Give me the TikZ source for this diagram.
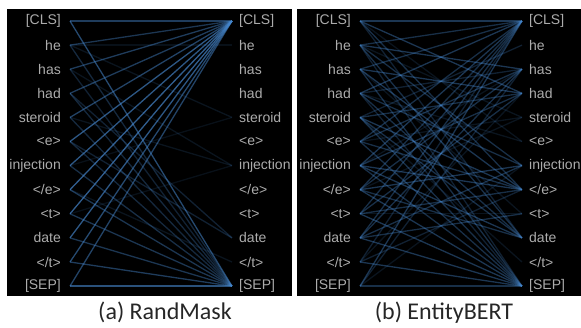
\documentclass[tikz,border=0pt]{standalone}
\usepackage{fontspec}
\setmainfont{Liberation Sans}
\newfontfamily\capfont{Carlito}
\usepackage{xcolor}
\usetikzlibrary{positioning}
\definecolor{attblue}{RGB}{70,135,205}
\definecolor{tokgray}{RGB}{172,172,172}

\begin{document}
\begin{tikzpicture}[x=1pt, y=-1pt,
  panel/.style={fill=black, draw=none},
  tok/.style={text=tokgray, font=\fontsize{14}{14}\selectfont, inner sep=0pt},
  att/.style={attblue, line width=1.3pt, draw opacity=#1},
  caption/.style={font=\capfont\fontsize{24}{24}\selectfont, text=black!85, anchor=base}
]
  \useasboundingbox (0,0) rectangle (581,327);
  \fill[panel] (7,9) rectangle (292,296);
  \fill[panel] (297,9) rectangle (581,296);

  % token rows, both panels
  \foreach \t [count=\k] in {{[CLS]},he,has,had,steroid,<e>,injection,</e>,<t>,date,</t>,{[SEP]}} {
    \pgfmathsetmacro\y{21+(\k-1)*24.1}
    \coordinate (a-l\k) at (70,\y);
    \coordinate (a-r\k) at (232,\y);
    \coordinate (b-l\k) at (360,\y);
    \coordinate (b-r\k) at (522,\y);
    \node[tok, left=9pt of a-l\k] (a-lt\k) {\t};
    \node[tok, left=9pt of b-l\k] (b-lt\k) {\t};
    \node[tok, right=7pt of b-r\k] (b-rt\k) {\t};
    \begin{scope}
      \clip (7,9) rectangle (292,296);
      \node[tok, right=7pt of a-r\k] (a-rt\k) {\t};
    \end{scope}
  }

  % (a) RandMask: almost everything goes to [CLS] and [SEP]
  \foreach \i/\o in {1/.45,2/.4,3/.45,4/.45,5/.5,6/.65,7/.65,8/.7,9/.7,10/.65,11/.55,12/.5}
    \draw[att=\o] (a-l\i) -- (a-r1);
  \foreach \i/\o in {1/.55,2/.3,3/.25,4/.3,5/.3,6/.3,7/.35,8/.4,9/.4,10/.4,11/.45,12/.6}
    \draw[att=\o] (a-l\i) -- (a-r12);
  \foreach \i/\j/\o in {2/5/.15,3/7/.15,4/10/.25,5/7/.15,6/10/.25,8/11/.15,2/2/.12,7/5/.12,9/7/.12}
    \draw[att=\o] (a-l\i) -- (a-r\j);

  % (b) EntityBERT: spread over many tokens
  \foreach \i/\j/\o in {1/1/.4,1/4/.4,1/8/.35,1/10/.25,1/6/.15,
      2/1/.35,2/3/.4,2/7/.35,2/10/.35,2/12/.25,2/5/.15,
      3/1/.35,3/4/.4,3/8/.4,3/12/.35,3/9/.15,
      4/1/.4,4/3/.25,4/7/.35,4/10/.35,4/12/.25,4/6/.15,
      5/2/.25,5/4/.35,5/8/.4,5/10/.35,5/12/.35,5/11/.15,
      6/1/.35,6/3/.35,6/8/.35,6/12/.35,6/5/.15,
      7/1/.4,7/4/.35,7/8/.4,7/10/.4,7/12/.35,7/3/.15,
      8/1/.35,8/3/.35,8/7/.4,8/10/.35,8/12/.4,8/5/.15,
      9/1/.35,9/4/.35,9/8/.35,9/12/.4,9/9/.15,
      10/1/.35,10/3/.35,10/7/.35,10/9/.35,10/12/.4,
      11/1/.25,11/8/.25,11/12/.4,11/4/.15,
      12/1/.4,12/3/.25,12/12/.35,12/7/.15}
    \draw[att=\o] (b-l\i) -- (b-r\j);

  \node[caption] (capa) at (165,319) {(a) RandMask};
  \node[caption] (capb) at (444,319) {(b) EntityBERT};
\end{tikzpicture}
\end{document}
